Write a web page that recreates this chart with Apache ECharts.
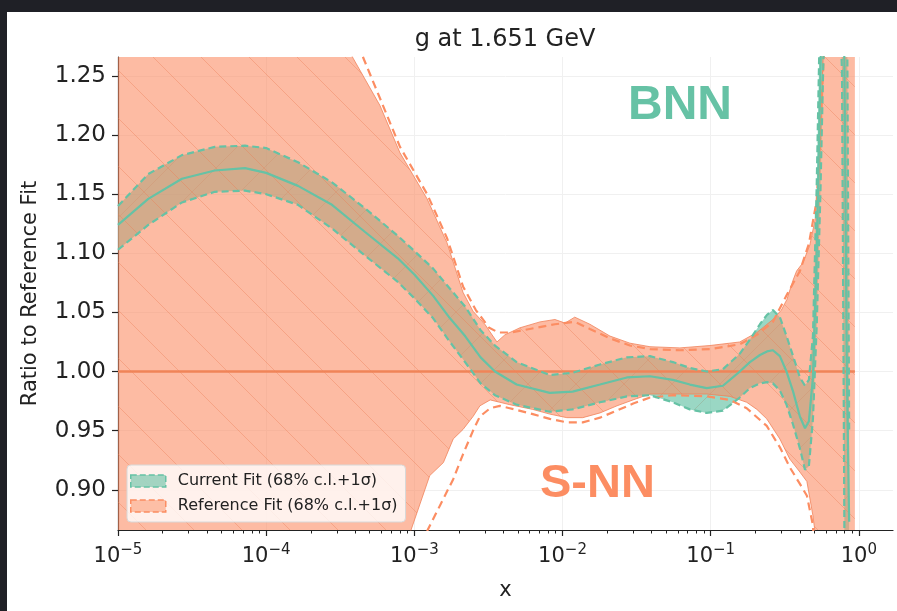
<!DOCTYPE html>
<html>
<head>
<meta charset="utf-8">
<script src="https://cdn.jsdelivr.net/npm/echarts@6/dist/echarts.min.js"></script>
<style>
html,body{margin:0;padding:0;background:#1f2026;width:897px;height:611px;overflow:hidden;}
#panel{position:absolute;left:7px;top:12px;right:0;bottom:0;background:#ffffff;}
#chart{position:absolute;left:0;top:0;width:897px;height:611px;}
</style>
</head>
<body>
<div id="panel"></div>
<div id="chart"></div>
<script>
// ---------------- DATA ----------------
const titleText = 'g at 1.651 GeV';
const xMajor = [1e-5, 1e-4, 1e-3, 1e-2, 1e-1, 1];
const xExponents = ['\u22125', '\u22124', '\u22123', '\u22122', '\u22121', '0'];
const xMinor = [2e-5,3e-5,4e-5,5e-5,6e-5,7e-5,8e-5,9e-5,
                2e-4,3e-4,4e-4,5e-4,6e-4,7e-4,8e-4,9e-4,
                2e-3,3e-3,4e-3,5e-3,6e-3,7e-3,8e-3,9e-3,
                0.02,0.03,0.04,0.05,0.06,0.07,0.08,0.09,
                0.2,0.3,0.4,0.5,0.6,0.7,0.8,0.9];
const yTicks = [0.90, 0.95, 1.00, 1.05, 1.10, 1.15, 1.20, 1.25];

// Current fit (BNN): common x grid
const curX = [1e-5,1.6e-5,2.7e-5,4.5e-5,7.2e-5,1.0e-4,1.64e-4,2.78e-4,4.65e-4,7.7e-4,
  1.0e-3,1.34e-3,1.74e-3,2.2e-3,2.8e-3,3.5e-3,4.9e-3,8.2e-3,0.0117,0.0179,
  0.0272,0.0389,0.0556,0.0724,0.094,0.121,0.157,0.184,0.215,0.24,
  0.263,0.293,0.325,0.36,0.40,0.433,0.46,0.49,0.52,0.55,
  0.59,0.70,0.77,0.80,0.83,0.86];
const curCentral = [1.124,1.146,1.163,1.170,1.172,1.168,1.157,1.141,1.118,1.096,
  1.082,1.064,1.045,1.030,1.012,1.000,0.989,0.982,0.983,0.989,
  0.995,0.996,0.993,0.989,0.986,0.988,1.000,1.008,1.014,1.017,
  1.018,1.013,1.000,0.983,0.962,0.952,0.958,0.995,1.10,1.25,
  1.45,1.60,1.45,1.25,1.00,0.873];
const curUpper = [1.140,1.167,1.183,1.190,1.191,1.189,1.177,1.160,1.138,1.115,
  1.102,1.087,1.070,1.055,1.035,1.022,1.008,0.997,0.999,1.006,
  1.012,1.013,1.008,1.003,1.000,1.002,1.015,1.027,1.040,1.048,
  1.052,1.046,1.030,1.013,0.995,0.988,0.993,1.030,1.16,1.32,
  1.55,1.75,1.65,1.55,1.35,0.95];
const curLower = [1.103,1.124,1.143,1.152,1.153,1.150,1.141,1.121,1.098,1.076,
  1.062,1.045,1.025,1.008,0.990,0.980,0.972,0.966,0.968,0.974,
  0.979,0.980,0.974,0.968,0.965,0.967,0.978,0.986,0.990,0.991,
  0.990,0.984,0.972,0.955,0.935,0.917,0.920,0.960,1.04,1.15,
  1.32,1.45,1.25,0.85,0.70,0.60];

// Reference fit (S-NN)
const refUpper = [[1e-5,1.80],[1e-4,1.45],[2.5e-4,1.31],[3.86e-4,1.265],[5.86e-4,1.225],[8.0e-4,1.185],
  [1.22e-3,1.146],[1.66e-3,1.109],[2.13e-3,1.067],[2.49e-3,1.051],[2.99e-3,1.040],[3.61e-3,1.025],
  [4.08e-3,1.031],[5.16e-3,1.037],[7.05e-3,1.042],[8.89e-3,1.044],[0.0104,1.041],[0.0121,1.046],
  [0.0153,1.040],[0.0209,1.030],[0.0285,1.024],[0.0389,1.021],[0.062,1.020],[0.0988,1.022],
  [0.157,1.025],[0.205,1.033],[0.263,1.044],[0.30,1.052],[0.327,1.061],[0.359,1.077],[0.38,1.085],
  [0.419,1.092],[0.467,1.107],[0.521,1.136],[0.546,1.187],[0.572,1.265],[0.65,1.60],[0.94,1.60]];
const refLower = [[1e-5,0.30],[1e-4,0.55],[5e-4,0.78],[9.5e-4,0.866],[1.27e-3,0.912],[1.57e-3,0.923],
  [1.83e-3,0.943],[2.13e-3,0.951],[2.49e-3,0.962],[2.77e-3,0.971],[3.25e-3,0.976],[3.78e-3,0.974],
  [4.4e-3,0.972],[6.29e-3,0.968],[8.22e-3,0.964],[0.0107,0.961],[0.0137,0.961],[0.0179,0.965],
  [0.0233,0.971],[0.0299,0.976],[0.0389,0.981],[0.0556,0.981],[0.094,0.981],[0.135,0.979],
  [0.175,0.974],[0.205,0.968],[0.239,0.960],[0.293,0.943],[0.342,0.926],[0.40,0.915],[0.446,0.907],
  [0.49,0.878],[0.504,0.866],[0.55,0.60],[0.94,0.60]];
const refDashUpper = [[1e-5,1.95],[1e-4,1.55],[2.5e-4,1.37],[4.5e-4,1.266],[8.0e-4,1.19],[1.22e-3,1.15],
  [1.66e-3,1.113],[2.13e-3,1.072],[2.6e-3,1.052],[3.2e-3,1.037],[3.7e-3,1.033],[4.5e-3,1.033],
  [6.0e-3,1.036],[8.9e-3,1.040],[0.0121,1.042],[0.0153,1.036],[0.021,1.028],[0.0285,1.022],
  [0.039,1.019],[0.062,1.018],[0.099,1.019],[0.157,1.023],[0.205,1.031],[0.263,1.042],[0.33,1.066],
  [0.40,1.085],[0.46,1.108],[0.52,1.145],[0.55,1.20],[0.58,1.27],[0.65,1.60]];
const refDashLower = [[9.5e-4,0.80],[1.23e-3,0.866],[1.83e-3,0.909],[2.13e-3,0.930],[2.49e-3,0.950],
  [2.77e-3,0.962],[3.25e-3,0.969],[3.78e-3,0.971],[4.4e-3,0.969],[6.3e-3,0.964],[8.2e-3,0.960],
  [0.0107,0.957],[0.0137,0.957],[0.0179,0.961],[0.0233,0.967],[0.03,0.973],[0.039,0.978],
  [0.056,0.980],[0.094,0.979],[0.135,0.976],[0.175,0.969],[0.239,0.954],[0.293,0.936],[0.342,0.919],
  [0.40,0.905],[0.446,0.895],[0.49,0.87],[0.50,0.85]];
const refCentral = [[1e-5,1.0],[0.94,1.0]];

const curName = 'Current Fit (68% c.l.+1\u03c3)';
const refName = 'Reference Fit (68% c.l.+1\u03c3)';

// ---------------- STYLE ----------------
const TEAL = '#66c2a5', ORANGE = '#fc8d62';
const FONT = "'DejaVu Sans', sans-serif";

function hatch(size, dir, color, lw) {
  const c = document.createElement('canvas');
  c.width = size; c.height = size;
  const g = c.getContext('2d');
  g.strokeStyle = color; g.lineWidth = lw;
  for (const k of [-1, 0, 1]) {
    g.beginPath();
    if (dir === '\\') { g.moveTo(0, k * size); g.lineTo(size, size + k * size); }
    else { g.moveTo(0, size + k * size); g.lineTo(size, k * size); }
    g.stroke();
  }
  return c;
}
const refHatch = { image: hatch(48, '\\', 'rgba(236,125,85,0.38)', 1), repeat: 'repeat' };
const curHatch = { image: hatch(48, '/', 'rgba(150,140,110,0.3)', 1), repeat: 'repeat' };

const zip = (xs, ys) => xs.map((x, i) => [x, ys[i]]);
const curUpperPts = zip(curX, curUpper);
const curLowerPts = zip(curX, curLower);
const curCentralPts = zip(curX, curCentral);

function bandSeries(name, upper, lower, fill, pattern) {
  return {
    name, type: 'custom', coordinateSystem: 'cartesian2d', clip: true,
    itemStyle: { color: fill },
    data: [[1e-3, 1]],
    renderItem: function (params, api) {
      if (params.dataIndex !== 0) return;
      const pts = upper.map(p => api.coord(p)).concat(lower.slice().reverse().map(p => api.coord(p)));
      return { type: 'group', children: [
        { type: 'polygon', shape: { points: pts }, style: { fill: fill, stroke: null } },
        { type: 'polygon', shape: { points: pts }, style: { fill: pattern, stroke: null } }
      ]};
    }
  };
}
function lineSeries(data, color, width, dash) {
  return { type: 'line', data, symbol: 'none', showSymbol: false, silent: true,
    lineStyle: { color, width, type: dash || 'solid' }, clip: true };
}

const chart = echarts.init(document.getElementById('chart'), null, { renderer: 'canvas' });
const option = {
  backgroundColor: 'transparent',
  animation: false,
  title: { text: titleText, left: 500, textAlign: 'center', top: 23,
    textStyle: { fontFamily: FONT, fontSize: 24, fontWeight: 'normal', color: '#222' } },
  grid: { left: 118, right: 4, top: 57, bottom: 81, containLabel: false },
  legend: {
    orient: 'vertical', left: 127, top: 465,
    itemWidth: 35, itemHeight: 12, itemGap: 9,
    backgroundColor: 'rgba(255,255,255,0.8)', borderColor: '#d8d8d8', borderWidth: 1, borderRadius: 4,
    padding: [8, 8, 8, 3],
    textStyle: { fontFamily: FONT, fontSize: 16, color: '#222', padding: [0, 0, 0, 7] },
    data: [
      { name: curName, icon: 'rect', itemStyle: { color: 'rgba(102,194,165,0.6)', borderColor: TEAL, borderWidth: 1.5, borderType: 'dashed' } },
      { name: refName, icon: 'rect', itemStyle: { color: 'rgba(252,141,98,0.5)', borderColor: ORANGE, borderWidth: 1.5, borderType: 'dashed' } }
    ]
  },
  xAxis: [{
    type: 'log', logBase: 10, min: 1e-5, max: 1.7,
    name: 'x', nameLocation: 'middle', nameGap: 50,
    nameTextStyle: { fontFamily: FONT, fontSize: 21, color: '#222' },
    axisLine: { show: true, onZero: false, lineStyle: { color: '#222', width: 1.2 } },
    axisTick: { show: true, length: 6, customValues: xMajor, lineStyle: { color: '#222', width: 1.2 } },
    minorTick: { show: false },
    splitLine: { show: true, lineStyle: { color: '#f0f0f0', width: 1 } },
    axisLabel: {
      customValues: xMajor, margin: 13, color: '#222',
      formatter: function (v) {
        let idx = 0, best = Infinity;
        xMajor.forEach((m, i) => { const d = Math.abs(Math.log10(m) - Math.log10(v)); if (d < best) { best = d; idx = i; } });
        return '{b|10}{s|' + xExponents[idx] + '}';
      },
      rich: {
        b: { fontFamily: FONT, fontSize: 21, color: '#222' },
        s: { fontFamily: FONT, fontSize: 15, color: '#222', padding: [0, 0, 13, 0] }
      }
    }
  }, {
    type: 'log', logBase: 10, min: 1e-5, max: 1.7, position: 'bottom',
    axisLine: { show: false }, axisLabel: { show: false }, splitLine: { show: false },
    axisTick: { show: true, length: 3.5, customValues: xMinor, lineStyle: { color: '#222', width: 1 } }
  }],
  yAxis: {
    type: 'value', min: 0.866, max: 1.266,
    name: 'Ratio to Reference Fit', nameLocation: 'middle', nameRotate: 90, nameGap: 77,
    nameTextStyle: { fontFamily: FONT, fontSize: 21, color: '#222' },
    axisLine: { show: true, lineStyle: { color: '#222', width: 1.2 } },
    axisTick: { show: true, length: 6, customValues: yTicks, lineStyle: { color: '#222', width: 1.2 } },
    splitLine: { show: true, lineStyle: { color: '#f0f0f0', width: 1 } },
    axisLabel: { customValues: yTicks, margin: 12, fontFamily: FONT, fontSize: 23, color: '#222',
      formatter: v => v.toFixed(2) }
  },
  graphic: [
    { type: 'text', left: 628, top: 82, z: 100,
      style: { text: 'BNN', fill: TEAL, font: "bold 48px 'Liberation Sans', Arial, sans-serif" } },
    { type: 'text', left: 540, top: 461, z: 100,
      style: { text: 'S-NN', fill: ORANGE, font: "bold 47px 'Liberation Sans', Arial, sans-serif" } }
  ],
  series: [
    bandSeries(curName, curUpperPts, curLowerPts, 'rgba(102,194,165,0.66)', curHatch),
    bandSeries(refName, refUpper, refLower, 'rgba(251,140,98,0.59)', refHatch),
    lineSeries(refUpper, 'rgba(240,130,90,0.8)', 1),
    lineSeries(refLower, 'rgba(240,130,90,0.8)', 1),
    lineSeries(refDashUpper, ORANGE, 2.2, [8, 5]),
    lineSeries(refDashLower, ORANGE, 2.2, [8, 5]),
    lineSeries(refCentral, '#f08458', 2.5),
    lineSeries(curUpperPts, TEAL, 2.2, [7, 4]),
    lineSeries(curLowerPts, TEAL, 2.2, [7, 4]),
    lineSeries(curCentralPts, TEAL, 2.2)
  ]
};
chart.setOption(option);
</script>
</body>
</html>
